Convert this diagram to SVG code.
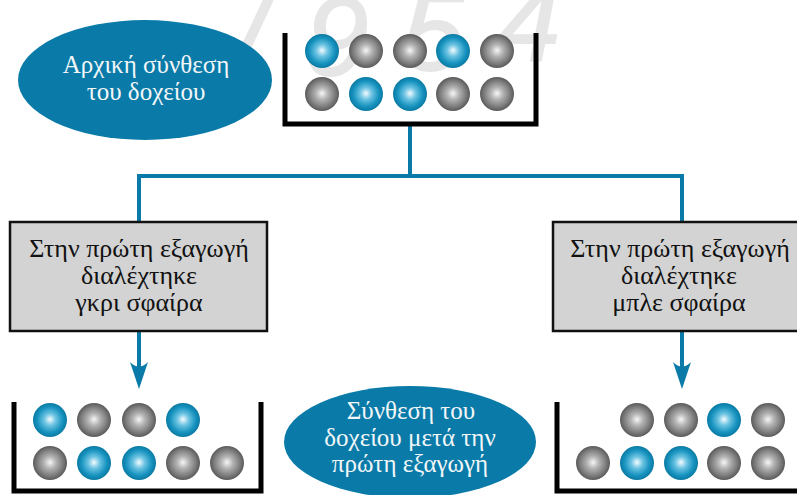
<svg xmlns="http://www.w3.org/2000/svg" width="797" height="495" viewBox="0 0 797 495">
  <style>
    .wm { font-family: "Liberation Sans", Arial, sans-serif; font-size: 112px; font-style: italic; fill: #e6e6e6; stroke: #e6e6e6; stroke-width: 2; }
    .oval { fill: #0a7ba8; }
    .oval-text { font-family: "Liberation Serif", "Times New Roman", serif; font-size: 25px; fill: #f2f6f8; text-anchor: middle; }
    .box { fill: #d3d3d3; stroke: #111; stroke-width: 2.5; }
    .box-text { font-family: "Liberation Serif", "Times New Roman", serif; font-size: 26px; fill: #111; text-anchor: middle; }
    .bin { fill: none; stroke: #000; stroke-width: 5; stroke-linejoin: miter; }
    .wire { fill: none; stroke: #0a7ba8; stroke-width: 4; }
    .head { fill: #0a7ba8; }
  </style>
  <defs>
    <radialGradient id="gBlue" cx="0.5" cy="0.5" r="0.5" fx="0.5" fy="0.48">
      <stop offset="0" stop-color="#f4fbfe"/>
      <stop offset="0.35" stop-color="#6cc3e2"/>
      <stop offset="0.75" stop-color="#1793bf"/>
      <stop offset="1" stop-color="#0a7aa3"/>
    </radialGradient>
    <radialGradient id="gGrey" cx="0.5" cy="0.5" r="0.5" fx="0.5" fy="0.48">
      <stop offset="0" stop-color="#f6f6f6"/>
      <stop offset="0.35" stop-color="#b4b4b4"/>
      <stop offset="0.75" stop-color="#7e7e7e"/>
      <stop offset="1" stop-color="#5a5a5a"/>
    </radialGradient>
    <circle id="b" r="17" fill="url(#gBlue)"/>
    <circle id="g" r="17" fill="url(#gGrey)"/>
    <path id="arrowhead" d="M0,0 L-9,-27 Q0,-18 9,-27 Z"/>
  </defs>

  <!-- faint background numerals -->
  <g id="watermark">
    <text class="wm" x="244" y="55">/</text>
    <text class="wm" x="306" y="75">9</text>
    <text class="wm" x="402" y="70">5</text>
    <text class="wm" x="498" y="60">4</text>
  </g>

  <!-- connectors -->
  <g id="connectors">
    <path class="wire" d="M410,124 V176 M137,176 H684 M139,174 V222 M682,174 V222"/>
    <path class="wire" d="M139,331 V372 M682,331 V372"/>
    <use href="#arrowhead" class="head" x="139" y="389"/>
    <use href="#arrowhead" class="head" x="682" y="389"/>
  </g>

  <!-- initial contents of the container -->
  <g id="start-label">
    <ellipse class="oval" cx="145" cy="80" rx="127" ry="60"/>
    <text class="oval-text" x="146" y="73">Αρχική σύνθεση</text>
    <text class="oval-text" x="146" y="100">του δοχείου</text>
  </g>

  <g id="start-bin">
    <path class="bin" d="M285,33 V124 H536 V33"/>
    <use href="#b" x="322" y="51"/><use href="#g" x="366" y="51"/><use href="#g" x="410" y="51"/><use href="#b" x="453" y="51"/><use href="#g" x="497" y="51"/>
    <use href="#g" x="322" y="94"/><use href="#b" x="366" y="94"/><use href="#b" x="410" y="94"/><use href="#g" x="453" y="94"/><use href="#g" x="497" y="94"/>
  </g>

  <!-- first draw: grey -->
  <g id="grey-draw">
    <rect class="box" x="10" y="222" width="257" height="109"/>
    <text class="box-text" x="139" y="257">Στην πρώτη εξαγωγή</text>
    <text class="box-text" x="139" y="284">διαλέχτηκε</text>
    <text class="box-text" x="139" y="311">γκρι σφαίρα</text>
  </g>

  <!-- first draw: blue -->
  <g id="blue-draw">
    <rect class="box" x="553" y="222" width="250" height="109"/>
    <text class="box-text" x="680" y="257">Στην πρώτη εξαγωγή</text>
    <text class="box-text" x="679" y="284">διαλέχτηκε</text>
    <text class="box-text" x="679" y="311">μπλε σφαίρα</text>
  </g>

  <g id="grey-bin">
    <path class="bin" d="M14,402 V491 H261 V402"/>
    <use href="#b" x="50" y="420"/><use href="#g" x="94" y="420"/><use href="#g" x="139" y="420"/><use href="#b" x="183" y="420"/>
    <use href="#g" x="50" y="463"/><use href="#b" x="94" y="463"/><use href="#b" x="139" y="463"/><use href="#g" x="183" y="463"/><use href="#g" x="227" y="463"/>
  </g>

  <g id="after-label">
    <ellipse class="oval" cx="410" cy="442" rx="126" ry="56"/>
    <text class="oval-text" x="411" y="419">Σύνθεση του</text>
    <text class="oval-text" x="410" y="446">δοχείου μετά την</text>
    <text class="oval-text" x="410" y="472">πρώτη εξαγωγή</text>
  </g>

  <g id="blue-bin">
    <path class="bin" d="M557,402 V491 H800"/>
    <use href="#g" x="637" y="420"/><use href="#g" x="681" y="420"/><use href="#b" x="724" y="420"/><use href="#g" x="768" y="420"/>
    <use href="#g" x="593" y="463"/><use href="#b" x="637" y="463"/><use href="#b" x="681" y="463"/><use href="#g" x="724" y="463"/><use href="#g" x="768" y="463"/>
  </g>
</svg>
